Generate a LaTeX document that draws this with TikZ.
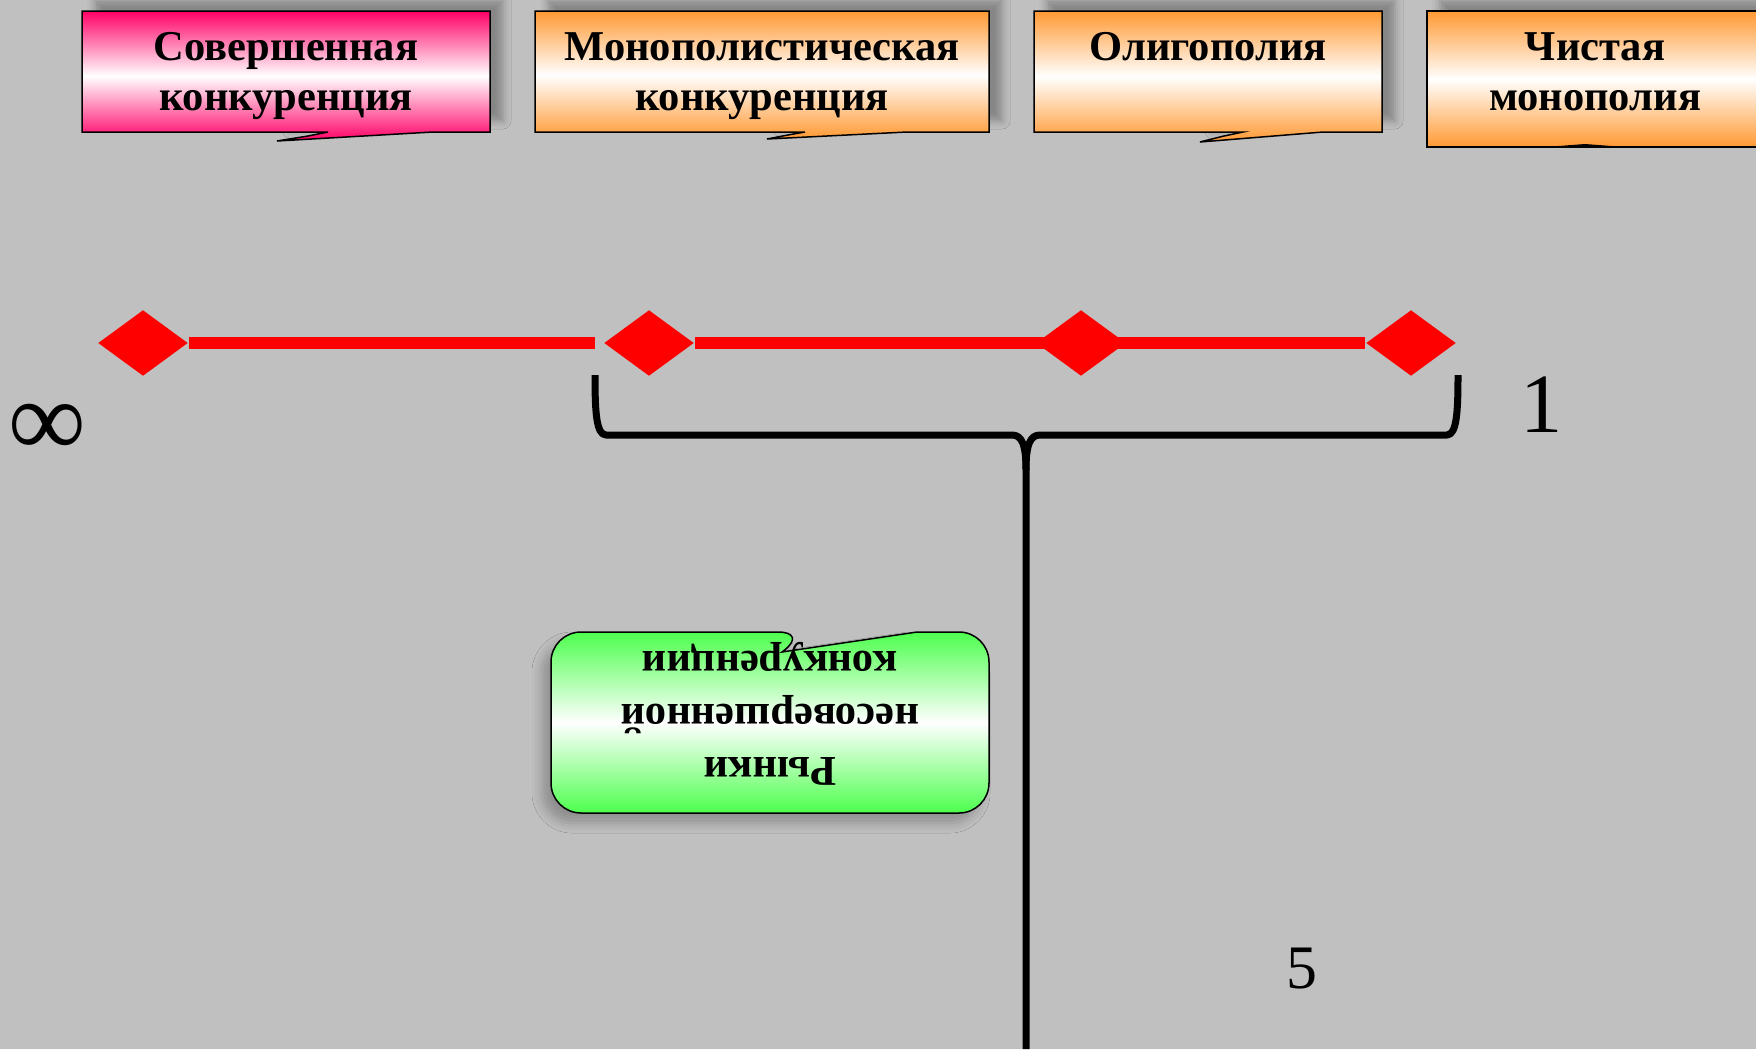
\documentclass[tikz,border=0pt]{standalone}
\usepackage{fontspec}
\setmainfont{Liberation Serif}
\usetikzlibrary{shapes.geometric, positioning, shadows.blur}

\definecolor{bgray}{HTML}{C0C0C0}
\definecolor{mkpink}{HTML}{FF0066}
\definecolor{mkorange}{HTML}{FF9933}
\definecolor{mkgreen}{HTML}{4DFF4D}

\begin{document}
\begin{tikzpicture}[x=0.1mm, y=-0.1mm,
  market/.style={draw=black, line width=0.15mm,
    blur shadow={shadow xshift=1.3mm, shadow yshift=1.1mm, shadow blur radius=0.8mm, shadow opacity=30}},
  pinkbox/.style={market, top color=mkpink, bottom color=mkpink, middle color=white},
  orangebox/.style={market, top color=mkorange, bottom color=mkorange, middle color=white},
  greenbox/.style={draw=black, line width=0.15mm, top color=mkgreen, bottom color=mkgreen, middle color=white,
    blur shadow={shadow xshift=-0.9mm, shadow yshift=-1mm, shadow blur radius=1mm, shadow opacity=25}},
  title/.style={align=center, inner sep=0pt, font=\bfseries\fontsize{12.1pt}{14.2pt}\selectfont},
  gem/.style={diamond, fill=red, inner sep=0pt, minimum width=9mm, minimum height=6.6mm},
  scale line/.style={red, line width=1.15mm},
  brace/.style={line width=0.7mm, line join=round}]

  \path[use as bounding box, fill=bgray] (0,0) rectangle (1756,1049);
  \clip (0,0) rectangle (1756,1049);

  % market types
  \path[pinkbox] (82,11) -- (490,11) -- (490,132) -- (433,132) -- (277,141) -- (308,136) -- (328,132) -- (82,132) -- cycle;
  \path[orangebox] (535,11) -- (989,11) -- (989,132) -- (907,132) -- (767,139) -- (788,135) -- (805,132) -- (535,132) -- cycle;
  \path[orangebox] (1034,11) -- (1382,11) -- (1382,132) -- (1323,132) -- (1200,142) -- (1224,136) -- (1243,132) -- (1034,132) -- cycle;
  \path[orangebox] (1427,11) rectangle (1765,147);
  \fill (1545,147) -- (1585,144) -- (1625,147) -- cycle;

  \node[title, anchor=north] (perfect) at (286,32) {Совершенная\\конкуренция};
  \node[title, anchor=north] (monocomp) at (762,32) {Монополистическая\\конкуренция};
  \node[title, anchor=north] (oligopoly) at (1208,32) {Олигополия};
  \node[title, anchor=north] (monopoly) at (1595,32) {Чистая\\монополия};

  % scale
  \node[gem] (d1) at (143,343) {};
  \node[gem] (d2) at (649,343) {};
  \node[gem] (d3) at (1081,343) {};
  \node[gem] (d4) at (1411,343) {};
  \coordinate (gap) at (595,343);
  \draw[scale line] (d1) -- (gap);
  \draw[scale line] (d2) -- (d4);

  \node (inf) at (47,430) {\fontsize{31pt}{33pt}\selectfont ∞};
  \node (one) at (1542,405) {\fontsize{24pt}{26pt}\selectfont 1};
  \node (five) at (1302,969) {\fontsize{17.6pt}{19pt}\selectfont 5};

  % brace
  \coordinate (bl) at (595,375);
  \coordinate (br) at (1458,375);
  \coordinate (stem) at (1026,1049);
  \draw[brace] (bl) .. controls (595,410) and (596,435) .. (606,435) -- (1012,435)
    .. controls (1022,435) and (1026,445) .. (1026,470) -- (stem);
  \draw[brace] (br) .. controls (1458,410) and (1457,435) .. (1447,435) -- (1040,435)
    .. controls (1030,435) and (1026,445) .. (1026,470);

  % imperfect competition
  \path[greenbox] (551,722) [rounded corners=3mm] |- (808,632) [sharp corners] -- (782,652) -- (917,632) -- (950,632)
    [rounded corners=3mm] -| (989,722) |- (551,813) -- cycle;
  \node[title, rotate=180, font=\bfseries\fontsize{12.1pt}{15pt}\selectfont] (imperfect) at (770,714)
    {Рынки\\несовершенной\\конкуренции};
\end{tikzpicture}
\end{document}
